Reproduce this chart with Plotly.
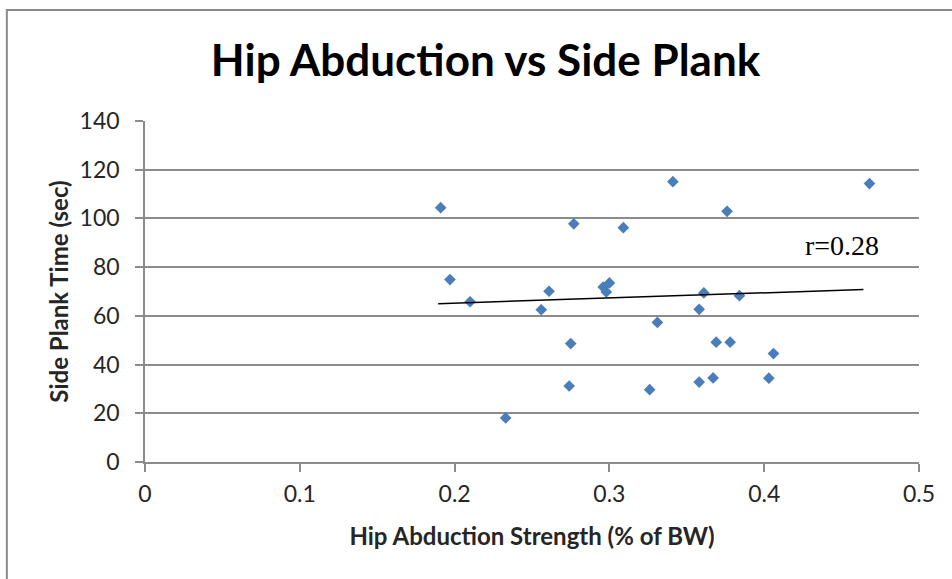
import plotly.graph_objects as go

# Data
hip_abduction = [0.191, 0.341, 0.277, 0.309, 0.197, 0.210, 0.261, 0.256, 0.296,
                 0.300, 0.298, 0.361, 0.358, 0.331, 0.275, 0.369, 0.378, 0.274,
                 0.326, 0.358, 0.367, 0.233, 0.468, 0.376, 0.384, 0.406, 0.403]
side_plank = [104.4, 115.1, 97.8, 96.2, 74.9, 65.8, 70.1, 62.5, 71.8,
              73.5, 69.8, 69.4, 62.7, 57.3, 48.6, 49.2, 49.2, 31.2,
              29.7, 32.8, 34.5, 18.1, 114.3, 102.9, 68.3, 44.5, 34.4]
trend_x = [0.1894, 0.4641]
trend_y = [65.0, 70.8]
x_ticks = [0, 0.1, 0.2, 0.3, 0.4, 0.5]
x_tick_labels = ["0", "0.1", "0.2", "0.3", "0.4", "0.5"]
y_ticks = [0, 20, 40, 60, 80, 100, 120, 140]
r_label = "r=0.28"

FONT = "Lato"
GRID = "#8c8c8c"

fig = go.Figure()
fig.add_trace(go.Scatter(
    x=hip_abduction, y=side_plank, mode="markers",
    marker=dict(symbol="diamond", size=9, color="#4a7ebb", line=dict(width=0)),
    showlegend=False, hoverinfo="x+y"))
fig.add_trace(go.Scatter(
    x=trend_x, y=trend_y, mode="lines",
    line=dict(color="black", width=1.5), showlegend=False, hoverinfo="skip"))

fig.add_annotation(x=0.450, y=89, xref="x", yref="y", text=r_label, showarrow=False,
                   font=dict(family="Liberation Serif", size=28, color="black"))

# Outer chart border (only top/left visible in the reference)
fig.add_shape(type="rect", xref="paper", yref="paper",
              x0=-0.1785, x1=1.06, y0=-0.4, y1=1.3255,
              line=dict(color="#8a8a8a", width=2), fillcolor="rgba(0,0,0,0)", layer="below")

fig.update_layout(
    width=952, height=579,
    margin=dict(l=145, r=33, t=121, b=117),
    paper_bgcolor="white", plot_bgcolor="white",
    title=dict(text="<b>Hip Abduction vs Side Plank</b>", x=0.44, xanchor="center",
               xref="paper", y=0.895, yanchor="middle",
               font=dict(family=FONT, size=44, color="black")),
    xaxis=dict(range=[0, 0.5], tickvals=x_ticks, ticktext=x_tick_labels,
               showgrid=False, zeroline=False, showline=True, linecolor=GRID, linewidth=1.5,
               ticks="outside", ticklen=8, tickcolor=GRID, tickwidth=1.5,
               ticklabelstandoff=3,
               tickfont=dict(family=FONT, size=23, color="#262626"),
               title=dict(text="<b>Hip Abduction Strength (% of BW)</b>", standoff=22,
                          font=dict(family=FONT, size=24, color="#262626"))),
    yaxis=dict(range=[0, 140], tickvals=y_ticks,
               showgrid=True, gridcolor=GRID, gridwidth=1.5, zeroline=False,
               showline=True, linecolor=GRID, linewidth=1.5,
               ticks="outside", ticklen=8, tickcolor=GRID, tickwidth=1.5,
               ticklabelstandoff=11,
               tickfont=dict(family=FONT, size=23, color="#262626"),
               title=dict(text="<b>Side Plank Time (sec)</b>", standoff=4,
                          font=dict(family=FONT, size=24, color="#262626"))),
)

fig.write_html("out.html", config={"displayModeBar": False},
               post_script="document.body.style.margin='0';document.body.style.overflow='hidden';")
